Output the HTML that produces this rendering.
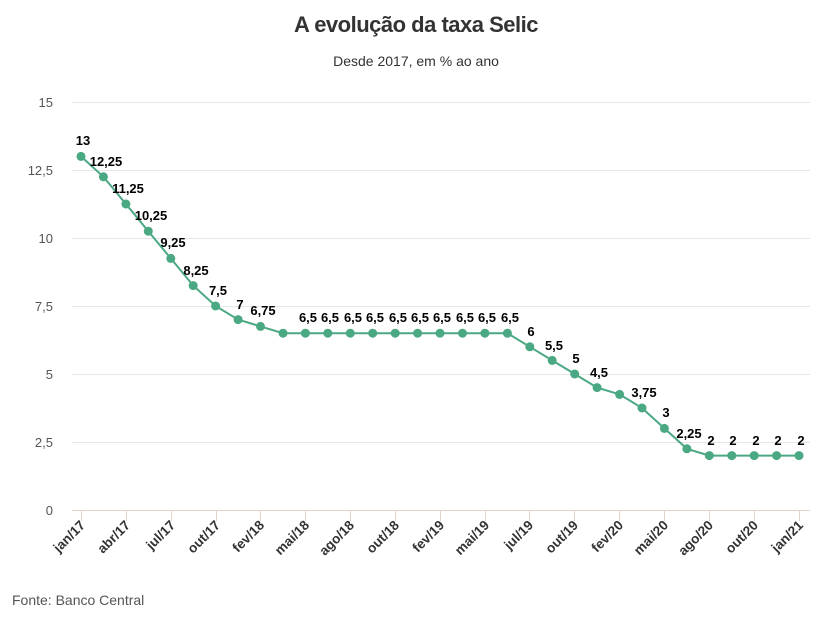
<!DOCTYPE html>
<html><head><meta charset="utf-8"><style>
body{margin:0;background:#fff;}
svg{display:block;font-family:"Liberation Sans",sans-serif;}
</style></head><body>
<svg width="833" height="622" viewBox="0 0 833 622">
<text x="416" y="32" text-anchor="middle" font-size="22" font-weight="bold" fill="#333" letter-spacing="-0.5">A evolução da taxa Selic</text>
<text x="416" y="66" text-anchor="middle" font-size="14" fill="#333">Desde 2017, em % ao ano</text>
<g stroke="#e6e6e6" stroke-width="1">
<line x1="72" x2="810" y1="102.5" y2="102.5"/><line x1="72" x2="810" y1="170.5" y2="170.5"/>
<line x1="72" x2="810" y1="238.5" y2="238.5"/><line x1="72" x2="810" y1="306.5" y2="306.5"/>
<line x1="72" x2="810" y1="374.5" y2="374.5"/><line x1="72" x2="810" y1="442.5" y2="442.5"/>
</g>
<line x1="72" x2="810" y1="510.5" y2="510.5" stroke="#e6d3cc"/>
<g stroke="#e6d3cc">
<line x1="81.5" x2="81.5" y1="510" y2="521"/><line x1="126.5" x2="126.5" y1="510" y2="521"/>
<line x1="171.5" x2="171.5" y1="510" y2="521"/><line x1="216.5" x2="216.5" y1="510" y2="521"/>
<line x1="260.5" x2="260.5" y1="510" y2="521"/><line x1="305.5" x2="305.5" y1="510" y2="521"/>
<line x1="350.5" x2="350.5" y1="510" y2="521"/><line x1="395.5" x2="395.5" y1="510" y2="521"/>
<line x1="440.5" x2="440.5" y1="510" y2="521"/><line x1="485.5" x2="485.5" y1="510" y2="521"/>
<line x1="529.5" x2="529.5" y1="510" y2="521"/><line x1="574.5" x2="574.5" y1="510" y2="521"/>
<line x1="619.5" x2="619.5" y1="510" y2="521"/><line x1="664.5" x2="664.5" y1="510" y2="521"/>
<line x1="709.5" x2="709.5" y1="510" y2="521"/><line x1="754.5" x2="754.5" y1="510" y2="521"/>
<line x1="799.5" x2="799.5" y1="510" y2="521"/>
</g>
<g font-size="13" fill="#555" text-anchor="end">
<text x="53" y="107">15</text><text x="53" y="175">12,5</text><text x="53" y="243">10</text>
<text x="53" y="311">7,5</text><text x="53" y="379">5</text><text x="53" y="447">2,5</text><text x="53" y="515">0</text>
</g>
<g font-size="13.5" font-weight="bold" fill="#333" text-anchor="end">
<text transform="translate(86,526) rotate(-45)">jan/17</text>
<text transform="translate(131,526) rotate(-45)">abr/17</text>
<text transform="translate(176,526) rotate(-45)">jul/17</text>
<text transform="translate(221,526) rotate(-45)">out/17</text>
<text transform="translate(265,526) rotate(-45)">fev/18</text>
<text transform="translate(310,526) rotate(-45)">mai/18</text>
<text transform="translate(355,526) rotate(-45)">ago/18</text>
<text transform="translate(400,526) rotate(-45)">out/18</text>
<text transform="translate(445,526) rotate(-45)">fev/19</text>
<text transform="translate(490,526) rotate(-45)">mai/19</text>
<text transform="translate(534,526) rotate(-45)">jul/19</text>
<text transform="translate(579,526) rotate(-45)">out/19</text>
<text transform="translate(624,526) rotate(-45)">fev/20</text>
<text transform="translate(669,526) rotate(-45)">mai/20</text>
<text transform="translate(714,526) rotate(-45)">ago/20</text>
<text transform="translate(759,526) rotate(-45)">out/20</text>
<text transform="translate(804,526) rotate(-45)">jan/21</text>
</g>
<polyline fill="none" stroke="#4aa882" stroke-width="2" points="81,156.4 103.4,176.8 125.9,204 148.3,231.2 170.8,258.4 193.2,285.6 215.6,306 238.1,319.6 260.5,326.4 283,333.2 305.4,333.2 327.8,333.2 350.3,333.2 372.7,333.2 395.2,333.2 417.6,333.2 440,333.2 462.5,333.2 484.9,333.2 507.4,333.2 529.8,346.8 552.2,360.4 574.7,374 597.1,387.6 619.6,394.4 642,408 664.4,428.4 686.9,448.8 709.3,455.6 731.8,455.6 754.2,455.6 776.6,455.6 799,455.6"/>
<g fill="#4aa882">
<circle cx="81" cy="156.4" r="4.5"/><circle cx="103.4" cy="176.8" r="4.5"/><circle cx="125.9" cy="204" r="4.5"/>
<circle cx="148.3" cy="231.2" r="4.5"/><circle cx="170.8" cy="258.4" r="4.5"/><circle cx="193.2" cy="285.6" r="4.5"/>
<circle cx="215.6" cy="306" r="4.5"/><circle cx="238.1" cy="319.6" r="4.5"/><circle cx="260.5" cy="326.4" r="4.5"/>
<circle cx="283" cy="333.2" r="4.5"/><circle cx="305.4" cy="333.2" r="4.5"/><circle cx="327.8" cy="333.2" r="4.5"/>
<circle cx="350.3" cy="333.2" r="4.5"/><circle cx="372.7" cy="333.2" r="4.5"/><circle cx="395.2" cy="333.2" r="4.5"/>
<circle cx="417.6" cy="333.2" r="4.5"/><circle cx="440" cy="333.2" r="4.5"/><circle cx="462.5" cy="333.2" r="4.5"/>
<circle cx="484.9" cy="333.2" r="4.5"/><circle cx="507.4" cy="333.2" r="4.5"/><circle cx="529.8" cy="346.8" r="4.5"/>
<circle cx="552.2" cy="360.4" r="4.5"/><circle cx="574.7" cy="374" r="4.5"/><circle cx="597.1" cy="387.6" r="4.5"/>
<circle cx="619.6" cy="394.4" r="4.5"/><circle cx="642" cy="408" r="4.5"/><circle cx="664.4" cy="428.4" r="4.5"/>
<circle cx="686.9" cy="448.8" r="4.5"/><circle cx="709.3" cy="455.6" r="4.5"/><circle cx="731.8" cy="455.6" r="4.5"/>
<circle cx="754.2" cy="455.6" r="4.5"/><circle cx="776.6" cy="455.6" r="4.5"/><circle cx="799" cy="455.6" r="4.5"/>
</g>
<g font-size="13" font-weight="bold" fill="#000" text-anchor="middle">
<text x="83" y="145">13</text><text x="106" y="166">12,25</text><text x="128" y="193">11,25</text>
<text x="151" y="220">10,25</text><text x="173" y="247">9,25</text><text x="196" y="275">8,25</text>
<text x="218" y="295">7,5</text><text x="240" y="309">7</text><text x="263" y="315">6,75</text>
<text x="308" y="322">6,5</text><text x="330" y="322">6,5</text><text x="353" y="322">6,5</text>
<text x="375" y="322">6,5</text><text x="398" y="322">6,5</text><text x="420" y="322">6,5</text>
<text x="442" y="322">6,5</text><text x="465" y="322">6,5</text><text x="487" y="322">6,5</text>
<text x="510" y="322">6,5</text><text x="531" y="336">6</text><text x="554" y="350">5,5</text>
<text x="576" y="363">5</text><text x="599" y="377">4,5</text><text x="644" y="397">3,75</text>
<text x="666" y="417">3</text><text x="689" y="438">2,25</text><text x="711" y="445">2</text>
<text x="733" y="445">2</text><text x="756" y="445">2</text><text x="778" y="445">2</text><text x="801" y="445">2</text>
</g>
<text x="12" y="605" font-size="14" fill="#555">Fonte: Banco Central</text>
</svg>
</body></html>
